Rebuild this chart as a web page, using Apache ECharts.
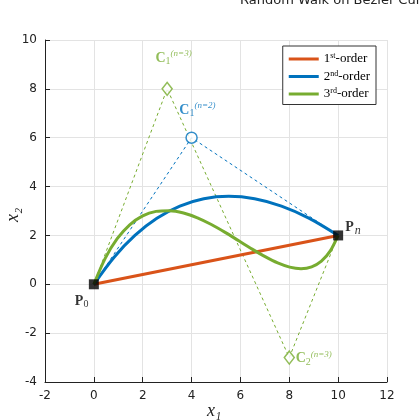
<!DOCTYPE html>
<html><head><meta charset="utf-8">
<script src="https://cdn.jsdelivr.net/npm/echarts@6/dist/echarts.min.js"></script>
<style>html,body{margin:0;background:#fff}#main{width:420px;height:420px}</style>
</head><body><div id="main"></div>
<script>
// control points
const P0 = [0, 0];
const Pn = [10, 2];
const C2nd = [4, 6];
const C3rd1 = [3, 8];
const C3rd2 = [8, -3];
// curve points
const firstOrder = [[0, 0], [10, 2]];
const secondOrder = [[0,0],[0.82,1.1],[1.68,2.0],[2.58,2.7],[3.52,3.2],[4.5,3.5],[5.52,3.6],[6.58,3.5],[7.68,3.2],[8.82,2.7],[10,2]];
const thirdOrder = [[0,0],[0.464,1.062],[0.955,1.865],[1.468,2.436],[2.0,2.8],[2.547,2.984],[3.105,3.015],[3.671,2.918],[4.24,2.72],[4.809,2.447],[5.375,2.125],[5.933,1.78],[6.48,1.44],[7.012,1.13],[7.525,0.875],[8.016,0.703],[8.48,0.64],[8.915,0.712],[9.315,0.945],[9.678,1.365],[10,2]];
const xTicks = [-2, 0, 2, 4, 6, 8, 10, 12];
const yTicks = [-4, -2, 0, 2, 4, 6, 8, 10];

const ORANGE = '#D95319', BLUE = '#0072BD', GREEN = '#77AC30';
const serif = 'Liberation Serif';
const rich = {
  b: {fontFamily: serif, fontWeight: 'bold', fontSize: 14},
  s: {fontFamily: serif, fontSize: 10, verticalAlign: 'bottom', padding: [6, 0, 0, 0]},
  p: {fontFamily: serif, fontSize: 9, fontStyle: 'italic', verticalAlign: 'top', padding: [0, 0, 8, 0]}
};
const nameStyle = {text: '', fontFamily: serif, fontStyle: 'italic', fontSize: 18, fill: '#222'};

const chart = echarts.init(document.getElementById('main'));
chart.setOption({
  animation: false,
  grid: {left: 45, right: 33, top: 40, bottom: 38, outerBoundsMode: 'none', containLabel: false},
  graphic: [
    {type: 'text', left: 240, top: -6, style: {text: 'Random Walk on Bezier Curves', fontSize: 13, fontFamily: 'DejaVu Sans', fill: '#222'}},
    {type: 'text', left: 207, top: 402, style: Object.assign({}, nameStyle, {text: 'x\u2081'})},
    {type: 'text', x: 4, y: 222, rotation: Math.PI / 2, style: Object.assign({}, nameStyle, {text: 'x\u2082'})}
  ],
  legend: {
    right: 44, top: 46, orient: 'vertical', itemWidth: 30, itemHeight: 3, itemGap: 4,
    backgroundColor: '#fff', borderColor: '#333', borderWidth: 1, borderRadius: 0, padding: [6, 6, 4, 6],
    textStyle: {fontFamily: serif, fontSize: 13, color: '#000',
      rich: {t: {fontFamily: serif, fontSize: 13}, u: {fontFamily: serif, fontSize: 8, verticalAlign: 'top', padding: [0, 0, 6, 0]}}},
    formatter: n => ({'1': '{t|1}{u|st}{t|-order}', '2': '{t|2}{u|nd}{t|-order}', '3': '{t|3}{u|rd}{t|-order}'})[n],
    data: [{name: '1', icon: 'rect'}, {name: '2', icon: 'rect'}, {name: '3', icon: 'rect'}]
  },
  xAxis: {
    type: 'value', min: -2, max: 12, interval: 2,
    axisLine: {onZero: false, lineStyle: {color: '#222'}},
    axisTick: {inside: true, lineStyle: {color: '#222'}},
    axisLabel: {color: '#222', fontSize: 12, fontFamily: 'DejaVu Sans', formatter: v => xTicks.includes(v) ? String(v) : ''},
    splitLine: {lineStyle: {color: '#e3e3e3'}}
  },
  yAxis: {
    type: 'value', min: -4, max: 10, interval: 2,
    axisLine: {show: true, onZero: false, lineStyle: {color: '#222'}},
    axisTick: {show: true, inside: true, lineStyle: {color: '#222'}},
    axisLabel: {color: '#222', fontSize: 12, fontFamily: 'DejaVu Sans', formatter: v => yTicks.includes(v) ? String(v) : ''},
    splitLine: {lineStyle: {color: '#e3e3e3'}}
  },
  series: [
    {type: 'line', data: [P0, C2nd, Pn], symbol: 'none', silent: true,
      lineStyle: {color: BLUE, width: 1, type: [3, 3]}, z: 1},
    {type: 'line', data: [P0, C3rd1, C3rd2, Pn], symbol: 'none', silent: true,
      lineStyle: {color: GREEN, width: 1, type: [3, 3]}, z: 1},
    {name: '1', type: 'line', data: firstOrder, symbol: 'none', color: ORANGE, lineStyle: {width: 3}, z: 3},
    {name: '2', type: 'line', data: secondOrder, smooth: 0.3, symbol: 'none', color: BLUE, lineStyle: {width: 3}, z: 3},
    {name: '3', type: 'line', data: thirdOrder, smooth: 0.3, symbol: 'none', color: GREEN, lineStyle: {width: 3}, z: 3},
    {type: 'scatter', symbol: 'rect', symbolSize: 10, itemStyle: {color: '#000'}, z: 5,
      data: [
        {value: P0, label: {show: true, position: [-14, 14], formatter: '{b|P}{s|0}', rich, color: '#000'}},
        {value: Pn, label: {show: true, position: [12, -12], formatter: '{b|P}{p|n}', rich: Object.assign({}, rich, {p: {fontFamily: serif, fontSize: 12, fontStyle: 'italic', verticalAlign: 'bottom', padding: [6, 0, 0, 1]}}), color: '#000'}}
      ]},
    {type: 'scatter', symbol: 'circle', symbolSize: 11, z: 5,
      itemStyle: {color: '#fff', borderColor: BLUE, borderWidth: 1.5},
      data: [{value: C2nd, label: {show: true, position: [-6, -30], formatter: '{b|C}{s|1}{p|(n=2)}', rich, color: BLUE}}]},
    {type: 'scatter', symbol: 'diamond', symbolSize: [10, 13], z: 5,
      itemStyle: {color: '#fff', borderColor: GREEN, borderWidth: 1.5},
      data: [
        {value: C3rd1, label: {show: true, position: [-6, -32], formatter: '{b|C}{s|1}{p|(n=3)}', rich, color: GREEN}},
        {value: C3rd2, label: {show: true, position: [12, 0], formatter: '{b|C}{s|2}{p|(n=3)}', rich, color: GREEN}}
      ]}
  ]
});
</script></body></html>
